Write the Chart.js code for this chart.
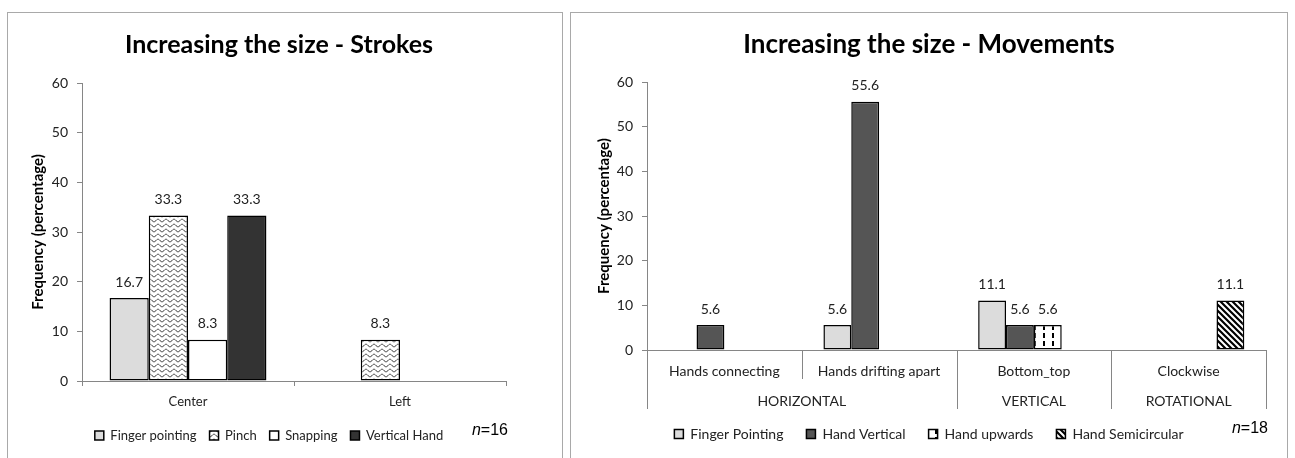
<!DOCTYPE html>
<html>
<head>
<meta charset="utf-8">
<script src="https://cdn.jsdelivr.net/npm/chart.js@4.4.1/dist/chart.umd.min.js"></script>
<style>
  html, body { margin: 0; padding: 0; background: #fff; overflow: hidden; }
  body { width: 1295px; height: 458px; position: relative; }
  .panel { position: absolute; top: 12px; height: 480px; border: 1.5px solid #a9a9a9; box-sizing: border-box; }
  #panelStrokes { left: 7px; width: 556px; }
  #panelMoves { left: 570px; width: 718px; }
  canvas { position: absolute; top: 13px; }
  #strokes { left: 8px; }
  #moves { left: 572px; }
</style>
</head>
<body>
<div class="panel" id="panelStrokes"></div>
<div class="panel" id="panelMoves"></div>
<canvas id="strokes" width="542" height="445"></canvas>
<canvas id="moves" width="714" height="445"></canvas>
<script>
// strokes
const strokeCategories = ['Center', 'Left'];
const fingerPointing = [16.7, null];
const pinch = [33.3, 8.3];
const snapping = [8.3, null];
const verticalHand = [33.3, null];

// movements
const moveCategories = ['Hands connecting', 'Hands drifting apart', 'Bottom_top', 'Clockwise'];
const moveGroups = ['HORIZONTAL', 'VERTICAL', 'ROTATIONAL'];
const moveGroupSizes = [2, 1, 1];
const mvFingerPointing = [null, 5.6, 11.1, null];
const mvHandVertical = [5.6, 55.6, 5.6, null];
const mvHandUpwards = [null, null, 5.6, null];
const mvHandSemicircular = [null, null, null, 11.1];

const yTicks = [0, 10, 20, 30, 40, 50, 60];

Chart.defaults.font.family = 'Lato';
Chart.defaults.color = '#222';

const AXIS = '#868686';

function makePattern(w, h, draw) {
  const c = document.createElement('canvas');
  c.width = w;
  c.height = h;
  const g = c.getContext('2d');
  g.fillStyle = '#fff';
  g.fillRect(0, 0, w, h);
  draw(g);
  return g.createPattern(c, 'repeat');
}

// small waves (Pinch)
const wavePattern = makePattern(8, 5, g => {
  g.strokeStyle = '#222';
  g.lineWidth = 0.9;
  g.beginPath();
  for (let x = -1; x <= 9; x += 0.5) {
    const y = 2.5 + 1.3 * Math.sin(x / 8 * Math.PI * 2);
    if (x === -1) g.moveTo(x, y); else g.lineTo(x, y);
  }
  g.stroke();
});

// dashed verticals (Hand upwards)
const dashPattern = makePattern(9, 8, g => {
  g.fillStyle = '#000';
  g.fillRect(3, 0, 2, 5);
});

// wide downward diagonal (Hand Semicircular)
const stripePattern = makePattern(6, 6, g => {
  g.strokeStyle = '#000';
  g.lineWidth = 2.2;
  g.beginPath();
  for (const k of [-6, 0, 6]) {
    g.moveTo(k - 1, -1);
    g.lineTo(k + 7, 7);
  }
  g.stroke();
});

// value above each bar
const valueLabels = {
  id: 'valueLabels',
  afterDatasetsDraw(chart, args, opts) {
    const ctx = chart.ctx;
    ctx.save();
    ctx.font = (opts.size || 14) + 'px Lato';
    ctx.fillStyle = '#222';
    ctx.textAlign = 'center';
    ctx.textBaseline = 'middle';
    chart.data.datasets.forEach((ds, i) => {
      chart.getDatasetMeta(i).data.forEach((bar, j) => {
        const v = ds.data[j];
        if (v == null) return;
        ctx.fillText(v.toFixed(1), bar.x, bar.y - 16);
      });
    });
    ctx.restore();
  }
};

// second row of x labels with separator lines
const groupAxis = {
  id: 'groupAxis',
  afterDraw(chart, args, opts) {
    if (!opts.groups) return;
    const x = chart.scales.x;
    const ctx = chart.ctx;
    const half = (x.getPixelForValue(1) - x.getPixelForValue(0)) / 2;
    const edge = i => x.getPixelForValue(i) - half;
    const starts = [0];
    opts.sizes.forEach(s => starts.push(starts[starts.length - 1] + s));
    const y0 = x.top;
    ctx.save();
    ctx.strokeStyle = AXIS;
    ctx.lineWidth = 1;
    for (let i = 0; i <= chart.data.labels.length; i++) {
      const px = Math.round(edge(i)) + 0.5;
      ctx.beginPath();
      ctx.moveTo(px, y0);
      ctx.lineTo(px, y0 + (starts.includes(i) ? 59 : 29));
      ctx.stroke();
    }
    ctx.font = (opts.size || 14) + 'px Lato';
    ctx.fillStyle = '#222';
    ctx.textAlign = 'center';
    ctx.textBaseline = 'middle';
    opts.groups.forEach((g, k) => {
      ctx.fillText(g, (edge(starts[k]) + edge(starts[k + 1])) / 2, y0 + 51);
    });
    ctx.restore();
  }
};

// "n=.." next to the legend, optional legend offset
const sampleNote = {
  id: 'sampleNote',
  afterLayout(chart, args, opts) {
    if (opts.legendShift) {
      chart.legend.left += opts.legendShift;
      chart.legend.right += opts.legendShift;
    }
  },
  afterDraw(chart, args, opts) {
    if (opts.n == null) return;
    const lg = chart.legend;
    const labels = lg.options.labels;
    const y = lg.top + labels.padding + labels.font.size / 2 - 5;
    const ctx = chart.ctx;
    ctx.save();
    ctx.fillStyle = '#000';
    ctx.textBaseline = 'middle';
    ctx.textAlign = 'left';
    ctx.font = '16px "Liberation Sans"';
    const rest = '=' + opts.n;
    const wRest = ctx.measureText(rest).width;
    ctx.font = 'italic 16px "Liberation Sans"';
    const wN = ctx.measureText('n').width;
    const x = chart.chartArea.right + 2 - wRest - wN;
    ctx.fillText('n', x, y);
    ctx.font = '16px "Liberation Sans"';
    ctx.fillText(rest, x + wN, y);
    ctx.restore();
  }
};

function yScale(width, titlePad) {
  return {
    min: yTicks[0],
    max: yTicks[yTicks.length - 1],
    ticks: { stepSize: yTicks[1] - yTicks[0], padding: 9, color: '#222', font: { size: 14 } },
    grid: { drawOnChartArea: false, drawTicks: true, tickLength: 5, color: AXIS },
    border: { color: AXIS, width: 1 },
    title: {
      display: true,
      text: 'Frequency (percentage)',
      color: '#000',
      font: { size: 15, weight: 'bold' },
      padding: { top: titlePad, bottom: 0 }
    },
    afterFit: s => { s.width = width; }
  };
}

function gutter(width) {
  return {
    type: 'linear',
    position: 'right',
    display: true,
    grid: { display: false },
    border: { display: false },
    ticks: { display: false },
    afterFit: s => { s.width = width; }
  };
}

function titleOpts(text, size, padTop, padBottom) {
  return {
    display: true,
    text: text,
    color: '#000',
    font: { size: size, weight: 'bold' },
    padding: { top: padTop, bottom: padBottom }
  };
}

function legendOpts(padding, size) {
  return {
    position: 'bottom',
    labels: { boxWidth: 9, boxHeight: 9, padding: padding, color: '#222', font: { size: size } }
  };
}

function bar(label, data, fill, pct) {
  return {
    label: label,
    data: data,
    backgroundColor: fill,
    borderColor: '#000',
    borderWidth: 1.5,
    borderSkipped: false,
    categoryPercentage: pct,
    barPercentage: 1
  };
}

new Chart(document.getElementById('strokes').getContext('2d'), {
  type: 'bar',
  data: {
    labels: strokeCategories,
    datasets: [
      bar('Finger pointing', fingerPointing, '#dcdcdc', 0.74),
      bar('Pinch', pinch, wavePattern, 0.74),
      bar('Snapping', snapping, '#ffffff', 0.74),
      bar('Vertical Hand', verticalHand, '#333333', 0.74)
    ]
  },
  options: {
    responsive: false,
    animation: false,
    devicePixelRatio: 1,
    layout: { padding: { left: 0, right: 0, top: 0, bottom: 6 } },
    scales: {
      x: {
        ticks: { padding: 8, color: '#222', font: { size: 13 } },
        grid: { drawOnChartArea: false, tickLength: 5, color: AXIS, offset: true },
        border: { color: AXIS, width: 1 },
        afterFit: s => { s.height = 35; }
      },
      y: yScale(74, 21),
      gutter: gutter(44)
    },
    plugins: {
      title: titleOpts('Increasing the size - Strokes', 25, 17, 23),
      legend: legendOpts(13, 13),
      tooltip: { enabled: false },
      valueLabels: { size: 14 },
      sampleNote: { n: 16, legendShift: -10 }
    }
  },
  plugins: [valueLabels, sampleNote]
});

new Chart(document.getElementById('moves').getContext('2d'), {
  type: 'bar',
  data: {
    labels: moveCategories,
    datasets: [
      bar('Finger Pointing', mvFingerPointing, '#dcdcdc', 0.72),
      bar('Hand Vertical', mvHandVertical, '#555555', 0.72),
      bar('Hand upwards', mvHandUpwards, dashPattern, 0.72),
      bar('Hand Semicircular', mvHandSemicircular, stripePattern, 0.72)
    ]
  },
  options: {
    responsive: false,
    animation: false,
    devicePixelRatio: 1,
    layout: { padding: { left: 0, right: 0, top: 0, bottom: 7 } },
    scales: {
      x: {
        ticks: { padding: 13, color: '#222', font: { size: 14 } },
        grid: { display: false, drawTicks: false },
        border: { color: AXIS, width: 1 },
        afterFit: s => { s.height = 54; }
      },
      y: yScale(75, 23),
      gutter: gutter(20)
    },
    plugins: {
      title: titleOpts('Increasing the size - Movements', 26, 16, 22),
      legend: legendOpts(23, 14),
      tooltip: { enabled: false },
      valueLabels: { size: 14 },
      groupAxis: { groups: moveGroups, sizes: moveGroupSizes, size: 14 },
      sampleNote: { n: 18 }
    }
  },
  plugins: [valueLabels, groupAxis, sampleNote]
});
</script>
</body>
</html>
